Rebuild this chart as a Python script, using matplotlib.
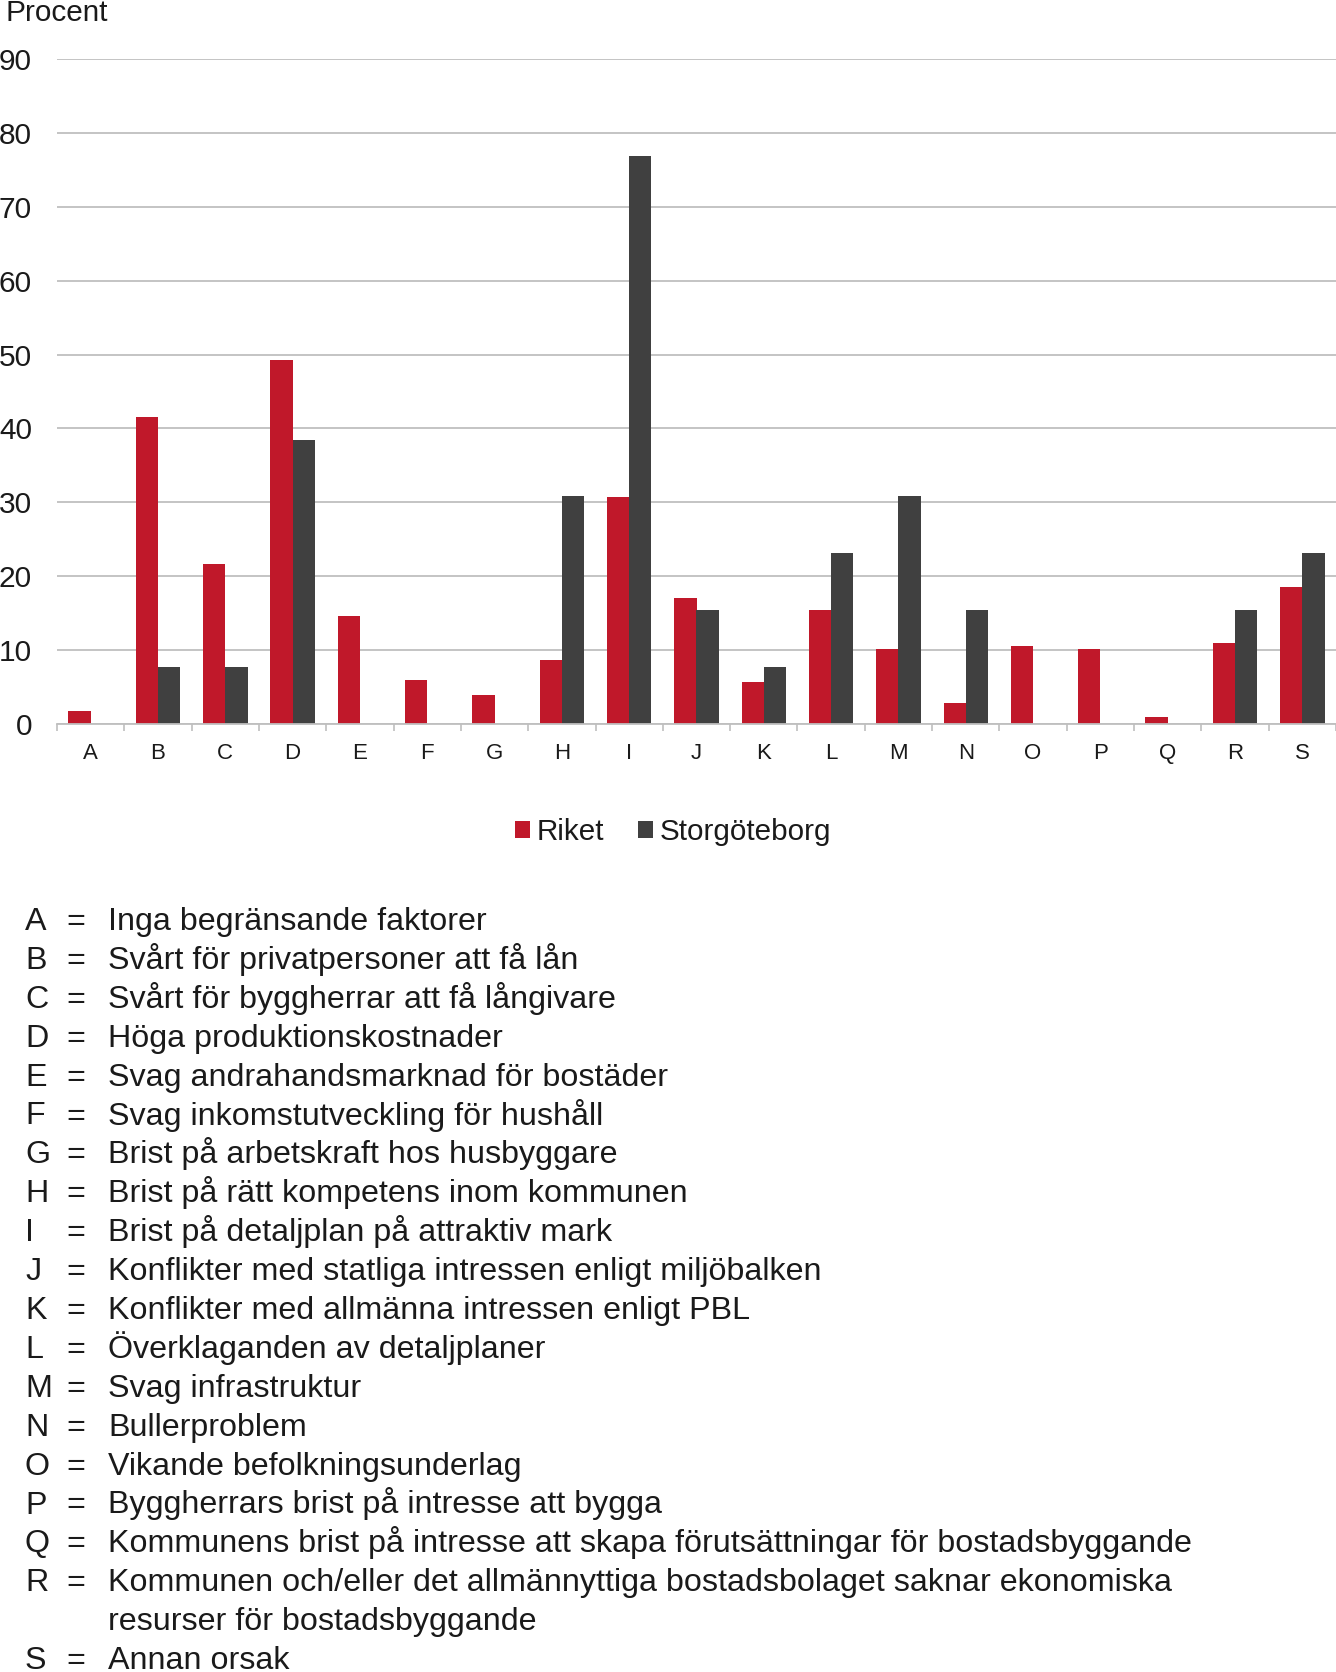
import matplotlib
matplotlib.use("Agg")
import matplotlib.pyplot as plt
import numpy as np

plt.rcParams['font.family'] = ['Liberation Sans', 'DejaVu Sans']

categories = list("ABCDEFGHIJKLMNOPQRS")
riket = [1.8, 41.6, 21.7, 49.2, 14.6, 5.9, 3.9, 8.7, 30.7, 17.1, 5.7, 15.4, 10.1, 2.8, 10.5, 10.1, 0.9, 10.9, 18.6]
storgoteborg = [0, 7.7, 7.7, 38.5, 0, 0, 0, 30.8, 76.9, 15.4, 7.7, 23.1, 30.8, 15.4, 0, 0, 0, 15.4, 23.1]
series_names = ["Riket", "Storgöteborg"]
yticks = [0, 10, 20, 30, 40, 50, 60, 70, 80, 90]
ylabel = "Procent"
explanations = [
    ("A", "Inga begränsande faktorer"),
    ("B", "Svårt för privatpersoner att få lån"),
    ("C", "Svårt för byggherrar att få långivare"),
    ("D", "Höga produktionskostnader"),
    ("E", "Svag andrahandsmarknad för bostäder"),
    ("F", "Svag inkomstutveckling för hushåll"),
    ("G", "Brist på arbetskraft hos husbyggare"),
    ("H", "Brist på rätt kompetens inom kommunen"),
    ("I", "Brist på detaljplan på attraktiv mark"),
    ("J", "Konflikter med statliga intressen enligt miljöbalken"),
    ("K", "Konflikter med allmänna intressen enligt PBL"),
    ("L", "Överklaganden av detaljplaner"),
    ("M", "Svag infrastruktur"),
    ("N", "Bullerproblem"),
    ("O", "Vikande befolkningsunderlag"),
    ("P", "Byggherrars brist på intresse att bygga"),
    ("Q", "Kommunens brist på intresse att skapa förutsättningar för bostadsbyggande"),
    ("R", "Kommunen och/eller det allmännyttiga bostadsbolaget saknar ekonomiska\nresurser för bostadsbyggande"),
    ("S", "Annan orsak"),
]

RED = "#C0182A"
DARK = "#404040"
GRID = "#BFBFBF"
TXT = "#1a1a1a"

W, H = 1336, 1672
fig = plt.figure(figsize=(W / 100, H / 100), dpi=100)
ax_left, ax_right, ax_top, ax_bottom = 57, 1336, 59, 724
ax = fig.add_axes([ax_left / W, 1 - ax_bottom / H, (ax_right - ax_left) / W, (ax_bottom - ax_top) / H])

x = np.arange(len(categories))
bw = 0.33
ax.bar(x - bw / 2, riket, width=bw, color=RED, label=series_names[0], zorder=3)
ax.bar(x + bw / 2, storgoteborg, width=bw, color=DARK, label=series_names[1], zorder=3)

ax.set_xlim(-0.5, len(categories) - 0.5)
ax.set_ylim(0, 90)
ax.set_yticks(yticks)
ax.set_yticklabels([str(v) for v in yticks])
ax.set_xticks(x)
ax.set_xticklabels(categories)
ax.set_xticks(np.arange(len(categories) + 1) - 0.5, minor=True)

ax.tick_params(axis='y', length=0, pad=18, labelsize=21.5, labelcolor=TXT)
ax.tick_params(axis='x', which='major', length=0, pad=13.5, labelsize=16, labelcolor=TXT)
ax.tick_params(axis='x', which='minor', length=5, width=1.2, color=GRID, direction='out')

ax.grid(axis='y', color=GRID, linewidth=1.3, zorder=0)
for s in ['top', 'right', 'left']:
    ax.spines[s].set_visible(False)
ax.spines['bottom'].set_color(GRID)
ax.spines['bottom'].set_linewidth(1.3)
ax.spines['bottom'].set_zorder(4)

fig.text(5 / W, 1 - 21 / H, ylabel, fontsize=21.4, ha='left', va='baseline', color=TXT)

fig.legend(loc='center', bbox_to_anchor=(673 / W, 1 - 832 / H), ncol=2, frameon=False,
           fontsize=21.3, handlelength=0.5, handleheight=0.5, handletextpad=0.22,
           columnspacing=1.15, borderpad=0, labelcolor=TXT)

row_h = 38.9
y0 = 919 + 11
row = 0
fs = 23.2
for letter, text in explanations:
    yb = y0 + row * row_h
    fig.text(25 / W, 1 - yb / H, letter, fontsize=fs, ha='left', va='baseline', color=TXT)
    fig.text(66 / W, 1 - yb / H, "=", fontsize=fs, ha='left', va='baseline', color=TXT)
    lines = text.split("\n")
    for j, ln in enumerate(lines):
        fig.text(108 / W, 1 - (yb + j * row_h) / H, ln, fontsize=fs, ha='left', va='baseline', color=TXT)
    row += len(lines)

fig.savefig("out.png", dpi=100)
